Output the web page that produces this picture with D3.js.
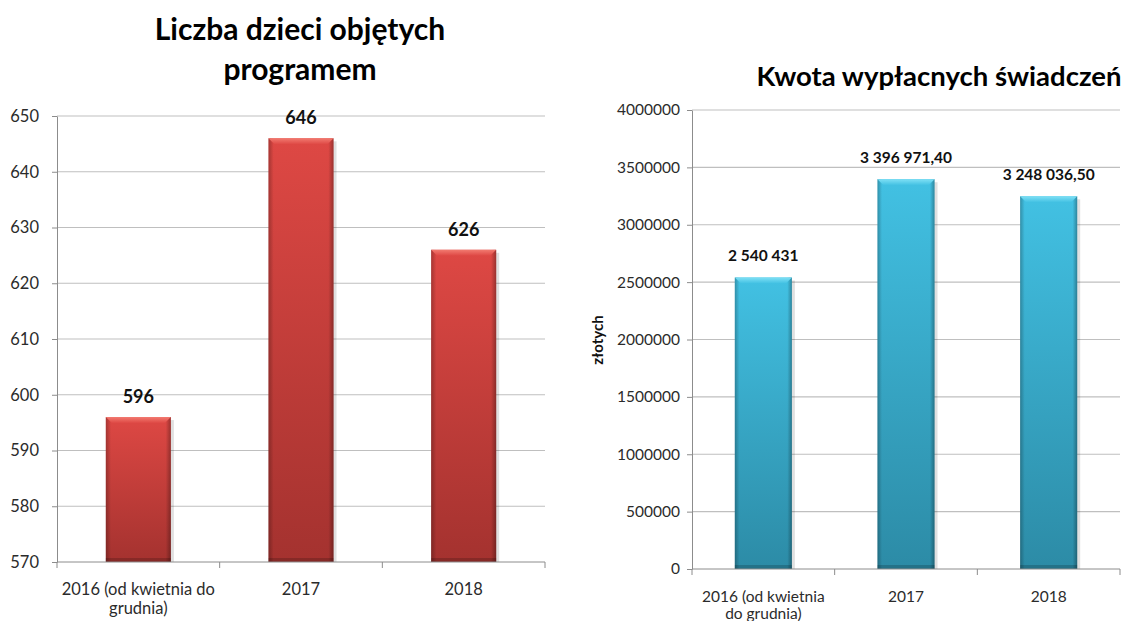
<!DOCTYPE html>
<html lang="pl">
<head>
  <meta charset="UTF-8" />
  <title>Liczba dzieci i kwota świadczeń</title>
  <script src="https://cdnjs.cloudflare.com/ajax/libs/d3/7.8.4/d3.min.js"></script>
  <style>
    body { margin: 0; background: #fff; font-family: Lato, "Open Sans", sans-serif; }
    svg { display: block; }
    .grid line { stroke: #bfbfbf; stroke-width: 1.2px; }
    .axis line, .axis path { stroke: #8c8c8c; }
    .tick-label { fill: #2b2b2b; }
  </style>
</head>
<body>
  <svg width="1126" height="621"></svg>
  <script>
    // dane
    const categoriesLeft = [["2016 (od kwietnia do", "grudnia)"], ["2017"], ["2018"]];
    const childrenCount = [596, 646, 626];
    const ticksLeft = [570, 580, 590, 600, 610, 620, 630, 640, 650];

    const categoriesRight = [["2016 (od kwietnia", "do grudnia)"], ["2017"], ["2018"]];
    const amounts = [2540431, 3396971.40, 3248036.50];
    const amountLabels = ["2 540 431", "3 396 971,40", "3 248 036,50"];
    const ticksRight = [0, 500000, 1000000, 1500000, 2000000, 2500000, 3000000, 3500000, 4000000];

    const svg = d3.select("svg");
    const defs = svg.append("defs");

    function makeGradients(id, top, bottom, light) {
      const v = defs.append("linearGradient").attr("id", id + "V")
        .attr("x1", 0).attr("y1", 0).attr("x2", 0).attr("y2", 1);
      v.append("stop").attr("offset", "0%").attr("stop-color", top);
      v.append("stop").attr("offset", "100%").attr("stop-color", bottom);
      const h = defs.append("linearGradient").attr("id", id + "H")
        .attr("x1", 0).attr("y1", 0).attr("x2", 1).attr("y2", 0);
      h.append("stop").attr("offset", "0%").attr("stop-color", "#000").attr("stop-opacity", 0.25);
      h.append("stop").attr("offset", "8%").attr("stop-color", "#000").attr("stop-opacity", 0);
      h.append("stop").attr("offset", "92%").attr("stop-color", "#000").attr("stop-opacity", 0);
      h.append("stop").attr("offset", "100%").attr("stop-color", "#000").attr("stop-opacity", 0.3);
      const t = defs.append("linearGradient").attr("id", id + "T")
        .attr("x1", 0).attr("y1", 0).attr("x2", 0).attr("y2", 1);
      t.append("stop").attr("offset", "0%").attr("stop-color", light);
      t.append("stop").attr("offset", "100%").attr("stop-color", top);
    }
    makeGradients("red", "#de4844", "#a4322f", "#f27a70");
    makeGradients("blue", "#42c1e3", "#2c8ba6", "#7fe0f5");

    function drawChart(cfg) {
      const g = svg.append("g");
      const x = d3.scaleBand()
        .domain(d3.range(cfg.values.length))
        .range([cfg.left, cfg.right])
        .paddingInner(0.6)
        .paddingOuter(0.3);
      const y = d3.scaleLinear().domain(cfg.domain).range([cfg.bottom, cfg.top]);

      // siatka
      g.append("g").attr("class", "grid")
        .selectAll("line").data(cfg.ticks.filter(t => t !== cfg.domain[0])).join("line")
        .attr("x1", cfg.left).attr("x2", cfg.right)
        .attr("y1", d => y(d)).attr("y2", d => y(d));

      // oś Y
      const yAxis = g.append("g").attr("class", "axis")
        .attr("transform", `translate(${cfg.left},0)`)
        .call(d3.axisLeft(y).tickValues(cfg.ticks).tickFormat(d3.format("d"))
          .tickSize(5).tickPadding(cfg.tickPad).tickSizeOuter(0));
      yAxis.selectAll("text").attr("class", "tick-label")
        .style("font-size", cfg.tickFont + "px").style("font-family", "Lato, sans-serif");

      // słupki
      const bars = g.append("g").selectAll("g").data(cfg.values).join("g");
      const bw = x.bandwidth();
      bars.append("rect")
        .attr("x", (d, i) => x(i) + 3).attr("y", d => y(d) + 3)
        .attr("width", bw).attr("height", d => cfg.bottom - y(d) - 3)
        .attr("fill", "#000").attr("opacity", 0.12);
      bars.append("rect")
        .attr("x", (d, i) => x(i)).attr("y", d => y(d))
        .attr("width", bw).attr("height", d => cfg.bottom - y(d))
        .attr("fill", `url(#${cfg.color}V)`);
      bars.append("rect")
        .attr("x", (d, i) => x(i)).attr("y", d => y(d))
        .attr("width", bw).attr("height", d => cfg.bottom - y(d))
        .attr("fill", `url(#${cfg.color}H)`);
      const bev = 6;
      bars.append("path")
        .attr("d", (d, i) => {
          const x0 = x(i), x1 = x(i) + bw, t = y(d);
          return `M${x0},${t}L${x1},${t}L${x1 - bev},${t + bev}L${x0 + bev},${t + bev}Z`;
        })
        .attr("fill", `url(#${cfg.color}T)`);
      bars.append("rect")
        .attr("x", (d, i) => x(i)).attr("y", cfg.bottom - 4)
        .attr("width", bw).attr("height", 4)
        .attr("fill", "#000").attr("opacity", 0.18);

      // etykiety wartości
      g.append("g").selectAll("text").data(cfg.values).join("text")
        .attr("x", (d, i) => x(i) + bw / 2)
        .attr("y", d => y(d) - cfg.labelGap)
        .attr("text-anchor", "middle")
        .style("font-weight", "bold")
        .style("font-size", cfg.labelFont + "px")
        .style("fill", "#111")
        .text((d, i) => cfg.labels[i]);

      // oś X
      const step = x.step();
      const xa = g.append("g").attr("class", "axis");
      xa.append("line").attr("x1", cfg.left).attr("x2", cfg.right)
        .attr("y1", cfg.bottom).attr("y2", cfg.bottom);
      xa.selectAll(".xt").data(d3.range(cfg.values.length + 1)).join("line")
        .attr("class", "xt")
        .attr("x1", i => cfg.left + i * step).attr("x2", i => cfg.left + i * step)
        .attr("y1", cfg.bottom).attr("y2", cfg.bottom + 6);
      xa.selectAll("text").data(cfg.categories).join("text")
        .attr("class", "tick-label")
        .attr("x", (d, i) => x(i) + bw / 2)
        .attr("y", cfg.bottom + cfg.catOffset)
        .attr("text-anchor", "middle")
        .style("font-size", cfg.catFont + "px")
        .each(function(lines) {
          const self = d3.select(this);
          lines.forEach((line, k) => {
            self.append("tspan").attr("x", self.attr("x"))
              .attr("dy", k === 0 ? 0 : cfg.catLine).text(line);
          });
        });

      // tytuł
      const title = g.append("text")
        .attr("text-anchor", "middle")
        .style("font-weight", "bold")
        .style("font-size", cfg.titleFont + "px")
        .style("fill", "#000");
      cfg.title.forEach((line, k) => {
        title.append("tspan").attr("x", cfg.titleX)
          .attr("y", cfg.titleY + k * cfg.titleLine).text(line);
      });

      return g;
    }

    drawChart({
      values: childrenCount, labels: childrenCount.map(String), categories: categoriesLeft,
      ticks: ticksLeft, domain: [570, 650],
      left: 57, right: 545, top: 116, bottom: 562,
      color: "red", tickFont: 16.5, tickPad: 13, labelFont: 18, labelGap: 14,
      catFont: 16.5, catOffset: 33, catLine: 19,
      title: ["Liczba dzieci objętych", "programem"], titleX: 300, titleY: 40, titleLine: 40, titleFont: 30
    });

    drawChart({
      values: amounts, labels: amountLabels, categories: categoriesRight,
      ticks: ticksRight, domain: [0, 4000000],
      left: 692, right: 1120, top: 110, bottom: 569,
      color: "blue", tickFont: 15.5, tickPad: 7, labelFont: 15.5, labelGap: 16,
      catFont: 15.5, catOffset: 33, catLine: 17,
      title: ["Kwota wypłacnych świadczeń"], titleX: 939, titleY: 86, titleLine: 0, titleFont: 27.5
    });

    svg.append("text")
      .attr("transform", "translate(603,340) rotate(-90)")
      .attr("text-anchor", "middle")
      .style("font-weight", "bold").style("font-size", "15px").style("fill", "#111")
      .text("złotych");
  </script>
</body>
</html>
